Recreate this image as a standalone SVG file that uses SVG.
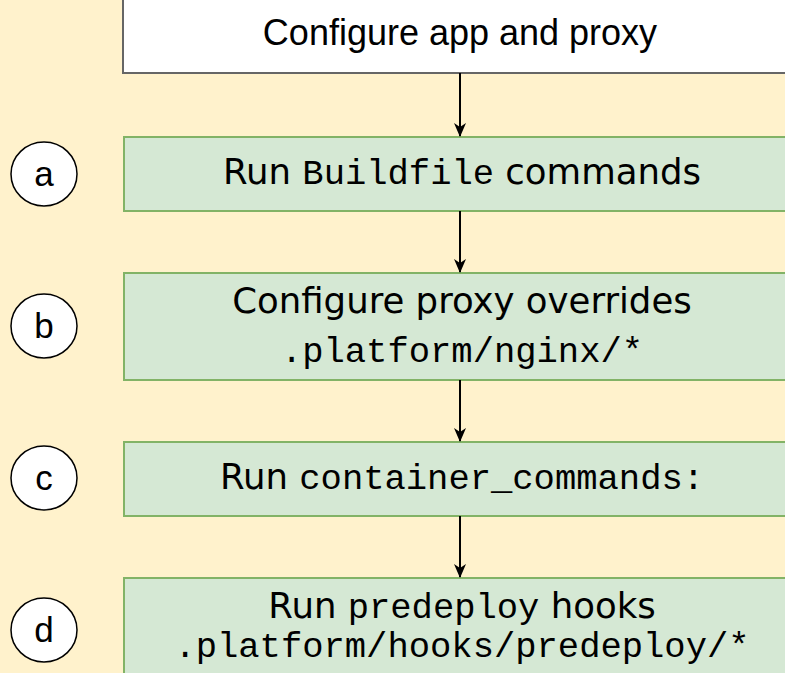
<svg xmlns="http://www.w3.org/2000/svg" width="785" height="673" viewBox="0 0 785 673">
<defs>
<style>
.bg{fill:#fff2cc}
.step{fill:#d5e8d4;stroke:#82b366;stroke-width:2}
.top{fill:#ffffff;stroke:#666666;stroke-width:2}
.lbl{fill:#ffffff;stroke:#000000;stroke-width:1.5}
.t{font-family:"DejaVu Sans",Verdana,sans-serif;font-size:35.5px;fill:#000;text-anchor:middle}
.m{font-family:"Liberation Mono","Courier New",monospace;font-size:35.5px}
.a{font-family:"Liberation Sans",Arial,sans-serif;font-size:36px;fill:#000;text-anchor:middle}
.c{font-family:"Liberation Sans",Arial,sans-serif;font-size:35px;fill:#000;text-anchor:middle}
.edge{stroke:#000;stroke-width:2;fill:none}
</style>
<marker id="arr" viewBox="0 0 14 12" refX="13" refY="6" markerWidth="7" markerHeight="6" markerUnits="strokeWidth" orient="auto">
<path d="M0,0 L14,6 L0,12 L4,6 Z" fill="#000"/>
</marker>
</defs>
<rect class="bg" x="0" y="0" width="785" height="673"/>
<g id="node-top">
<rect class="top" x="123" y="-10" width="680" height="83"/>
<text class="a" x="460" y="45">Configure app and proxy</text>
</g>
<g id="node-a">
<rect class="step" x="124" y="137" width="680" height="74"/>
<text class="t" x="462" y="184">Run <tspan class="m">Buildfile</tspan> commands</text>
</g>
<g id="node-b">
<rect class="step" x="124" y="273" width="680" height="107"/>
<text class="t" x="462" y="313">Configure proxy overrides</text>
<text class="t m" x="462" y="362">.platform/nginx/*</text>
</g>
<g id="node-c">
<rect class="step" x="124" y="442" width="680" height="74"/>
<text class="t" x="462" y="489">Run <tspan class="m">container_commands:</tspan></text>
</g>
<g id="node-d">
<rect class="step" x="124" y="578" width="680" height="110"/>
<text class="t" x="462" y="618">Run <tspan class="m">predeploy</tspan> hooks</text>
<text class="t m" x="462" y="657">.platform/hooks/predeploy/*</text>
</g>
<g id="label-a"><ellipse class="lbl" cx="44" cy="174" rx="33" ry="32"/><text class="c" x="44" y="186">a</text></g>
<g id="label-b"><ellipse class="lbl" cx="44" cy="326" rx="33" ry="32"/><text class="c" x="44" y="338">b</text></g>
<g id="label-c"><ellipse class="lbl" cx="44" cy="478" rx="33" ry="32"/><text class="c" x="44" y="490">c</text></g>
<g id="label-d"><ellipse class="lbl" cx="44" cy="630" rx="33" ry="32"/><text class="c" x="44" y="642">d</text></g>
<g id="connectors">
<line class="edge" x1="460" y1="73" x2="460" y2="136" marker-end="url(#arr)"/>
<line class="edge" x1="460" y1="211" x2="460" y2="272" marker-end="url(#arr)"/>
<line class="edge" x1="460" y1="380" x2="460" y2="441" marker-end="url(#arr)"/>
<line class="edge" x1="460" y1="516" x2="460" y2="577" marker-end="url(#arr)"/>
</g>
</svg>
